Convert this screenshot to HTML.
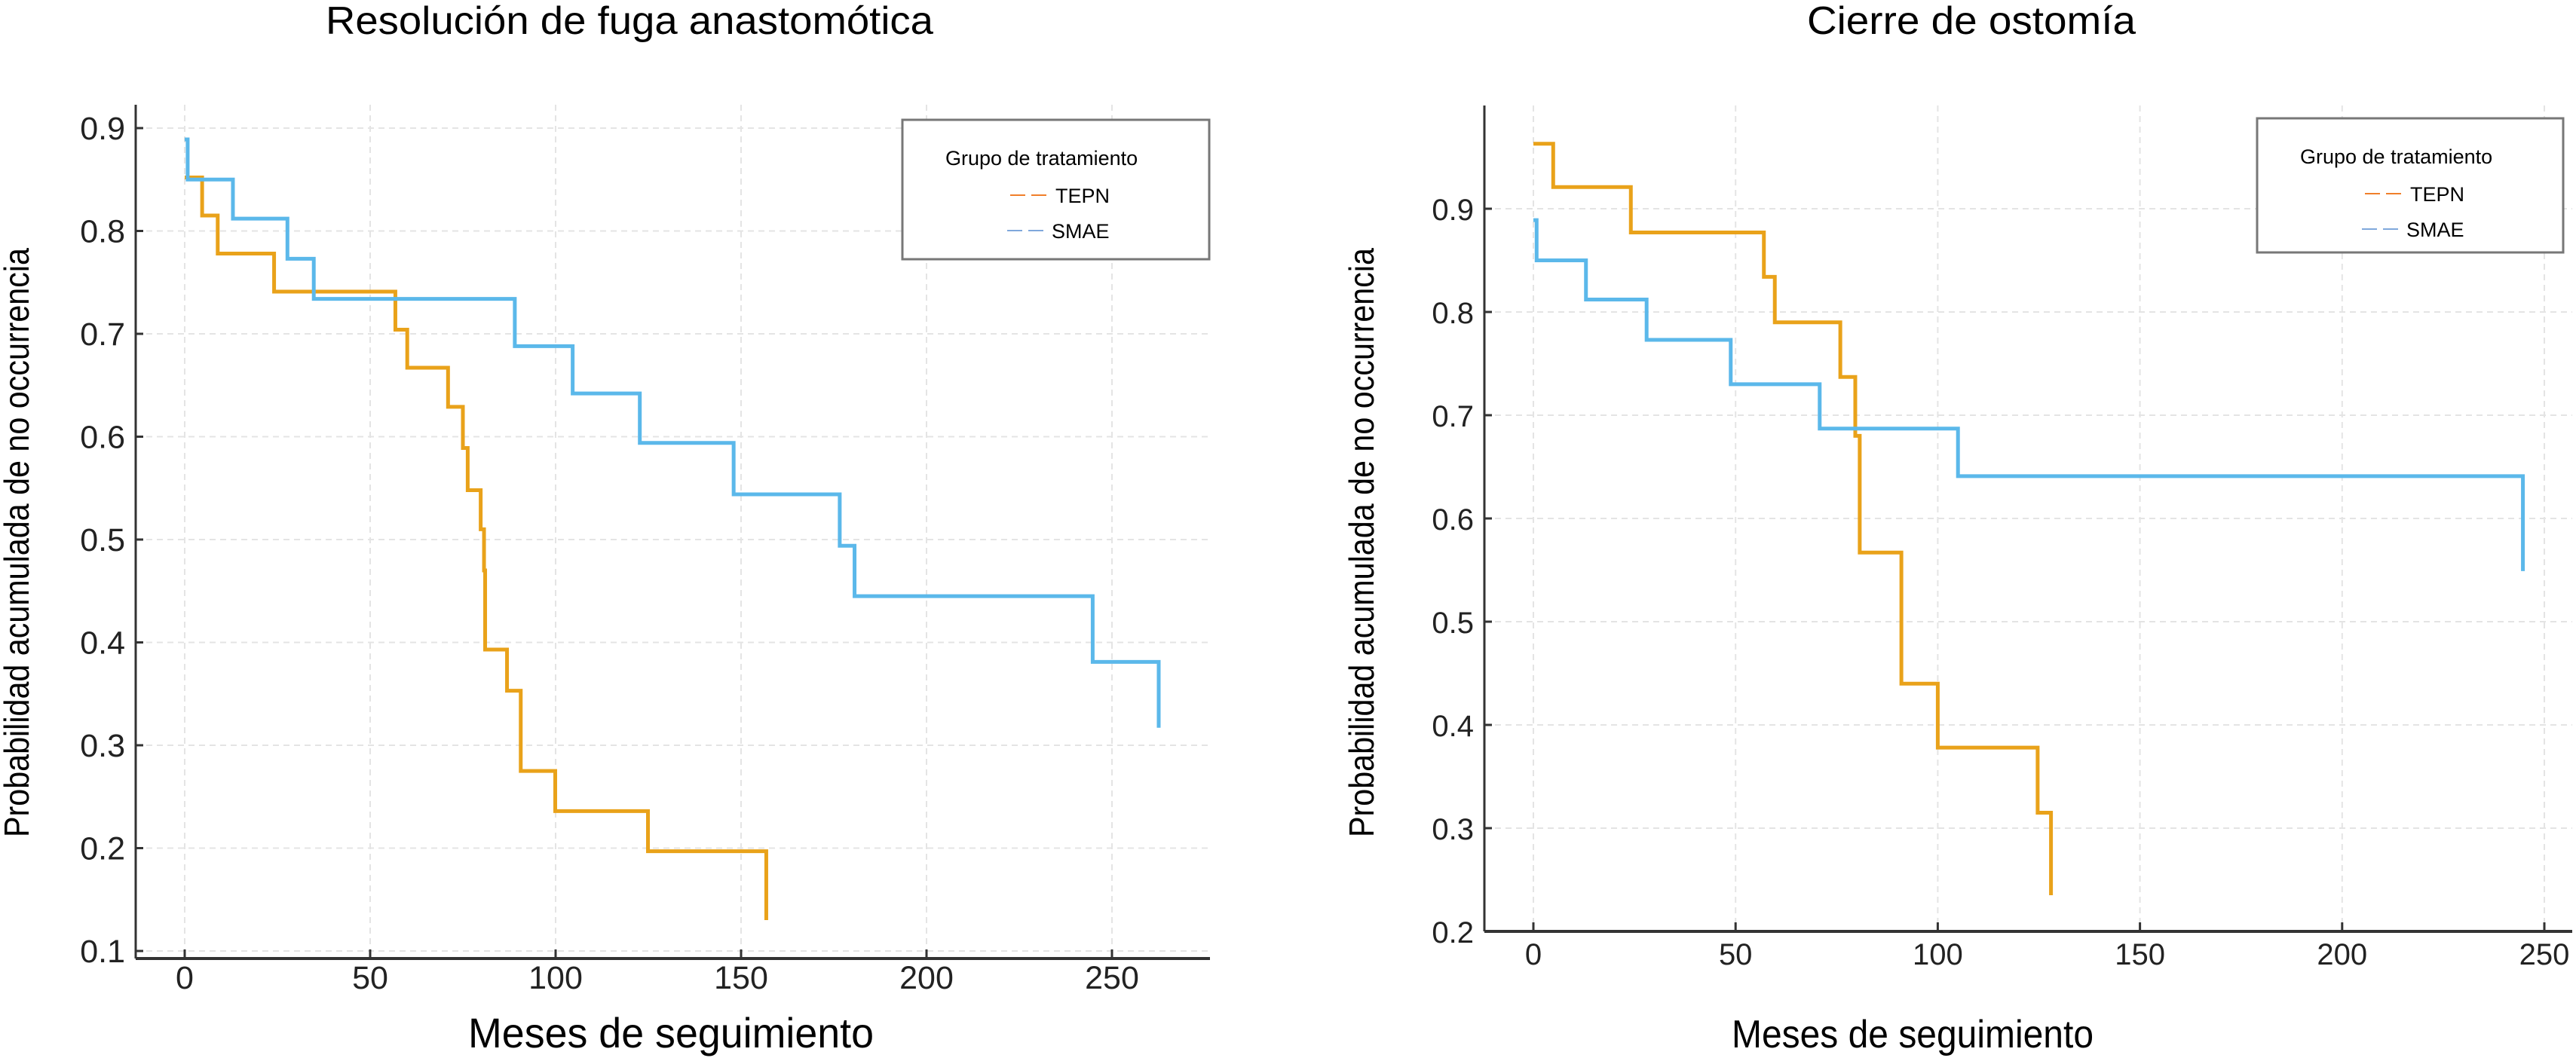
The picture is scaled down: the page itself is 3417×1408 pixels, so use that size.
<!DOCTYPE html>
<html><head><meta charset="utf-8"><style>
html,body{margin:0;padding:0;background:#fff;}
svg{display:block;font-family:"Liberation Sans",sans-serif;}
</style></head><body>
<svg id="fig" width="3417" height="1408" viewBox="0 0 3417 1408" xmlns="http://www.w3.org/2000/svg">
<g id="left"></g>
<g id="right"></g>
</svg>
<script>
// ---- Left chart data: Resolución de fuga anastomótica ----
const leftTepnTimes = [0, 4.7, 8.9, 24.1, 56.8, 60, 71, 75, 76.3, 79.8, 80.7, 81, 86.9, 90.6, 99.9, 124.9, 156.8];
const leftTepnSurv  = [0.852, 0.815, 0.778, 0.741, 0.704, 0.667, 0.629, 0.589, 0.548, 0.510, 0.470, 0.393, 0.353, 0.275, 0.236, 0.197, 0.13];
const leftSmaeTimes = [0, 0.8, 13, 27.7, 34.8, 89, 104.6, 122.7, 148, 176.6, 180.6, 244.8, 262.6];
const leftSmaeSurv  = [0.889, 0.85, 0.812, 0.773, 0.734, 0.688, 0.642, 0.594, 0.544, 0.494, 0.445, 0.381, 0.317];
const leftYTicks = [0.1, 0.2, 0.3, 0.4, 0.5, 0.6, 0.7, 0.8, 0.9];
const leftXTicks = [0, 50, 100, 150, 200, 250];

// ---- Right chart data: Cierre de ostomía ----
const rightTepnTimes = [0, 4.9, 24.1, 57, 59.7, 75.9, 79.6, 80.7, 91, 100, 124.7, 128];
const rightTepnSurv  = [0.963, 0.921, 0.877, 0.834, 0.79, 0.737, 0.68, 0.567, 0.44, 0.378, 0.315, 0.235];
const rightSmaeTimes = [0, 0.8, 13, 28, 48.8, 70.8, 105, 244.7];
const rightSmaeSurv  = [0.889, 0.85, 0.812, 0.773, 0.73, 0.687, 0.641, 0.549];
const rightYTicks = [0.2, 0.3, 0.4, 0.5, 0.6, 0.7, 0.8, 0.9];
const rightXTicks = [0, 50, 100, 150, 200, 250];

const NS = "http://www.w3.org/2000/svg";
function mk(parent, tag, attrs, text){
  const e = document.createElementNS(NS, tag);
  for (const k in attrs) e.setAttribute(k, attrs[k]);
  if (text !== undefined) e.textContent = text;
  parent.appendChild(e);
  return e;
}
function stepPath(times, surv, sx, sy){
  let d = "M" + sx(times[0]) + "," + sy(surv[0]);
  for (let i = 1; i < times.length; i++){
    d += " H" + sx(times[i]) + " V" + sy(surv[i]);
  }
  return d;
}

function drawChart(g, cfg){
  const sx = v => cfg.x0 + (v - 0) * cfg.xScale;
  const sy = v => cfg.yRef - (v - cfg.yRefVal) * cfg.yScale;
  // grid
  cfg.xTicks.forEach(t => {
    const l = mk(g, "line", {x1:sx(t), x2:sx(t), y1:cfg.top, y2:cfg.bottom, stroke:"#e4e4e4", "stroke-width":2, "stroke-dasharray":"8,6"});
    
    
  });
  cfg.yTicks.forEach(t => {
    const l = mk(g, "line", {x1:cfg.left, x2:cfg.right, y1:sy(t), y2:sy(t), stroke:"#e4e4e4", "stroke-width":2, "stroke-dasharray":"8,6"});
    
    
  });
  // axes
  const ya = mk(g, "line", {x1:cfg.left, x2:cfg.left, y1:cfg.top, y2:cfg.bottom, stroke:"#333", "stroke-width":3});
  
  
  const xa = mk(g, "line", {x1:cfg.left, x2:cfg.right, y1:cfg.bottom, y2:cfg.bottom, stroke:"#333", "stroke-width":4});
  
  
  // ticks + labels
  cfg.yTicks.forEach(t => {
    mk(g, "line", {x1:cfg.left, x2:cfg.left+10, y1:sy(t), y2:sy(t), stroke:"#333", "stroke-width":3});
    const tx = mk(g, "text", {x:cfg.left-14, y:sy(t)+15, "font-size":cfg.tickFont, "text-anchor":"end", fill:"#222"}, t.toFixed(1));
    
    
  });
  cfg.xTicks.forEach(t => {
    mk(g, "line", {x1:sx(t), x2:sx(t), y1:cfg.bottom, y2:cfg.bottom-12, stroke:"#333", "stroke-width":3});
    const tx = mk(g, "text", {x:sx(t), y:cfg.xLabelY, "font-size":cfg.tickFont, "text-anchor":"middle", fill:"#222"}, String(t));
    
    
  });
  // series
  const po = mk(g, "path", {d:stepPath(cfg.tepnT, cfg.tepnS, sx, sy), fill:"none", stroke:"#E9A21A", "stroke-width":5});
  
  
  const pb = mk(g, "path", {d:stepPath(cfg.smaeT, cfg.smaeS, sx, sy), fill:"none", stroke:"#5BB8EA", "stroke-width":5});
  
  
  // titles
  const tt = mk(g, "text", {x:cfg.titleX, y:45, "font-size":52, "text-anchor":"middle", textLength:cfg.titleW, lengthAdjust:"spacingAndGlyphs", fill:"#000"}, cfg.title);
  
  
  const xt = mk(g, "text", {x:cfg.xTitleX, y:1408-18, "font-size":cfg.xTitleFont, "text-anchor":"middle", textLength:cfg.xTitleW, lengthAdjust:"spacingAndGlyphs", fill:"#000"}, "Meses de seguimiento");
  
  
  const yt = mk(g, "text", {x:0, y:0, "font-size":46, "text-anchor":"middle", textLength:782, lengthAdjust:"spacingAndGlyphs", fill:"#000", transform:"translate("+cfg.yTitleX+",720) rotate(-90)"}, "Probabilidad acumulada de no occurrencia");
  
  
  // legend
  const lg = mk(g, "g", {});
  
  
  mk(lg, "rect", {x:cfg.lgX, y:cfg.lgY, width:cfg.lgW, height:cfg.lgH, fill:"#fff", stroke:"#777", "stroke-width":3});
  mk(lg, "text", {x:cfg.lgX+57, y:cfg.lgY+60, "font-size":27, fill:"#000"}, "Grupo de tratamiento");
  const e1 = mk(lg, "g", {});
  
  
  mk(e1, "line", {x1:cfg.lgX+143, x2:cfg.lgX+193, y1:cfg.lgY+100, y2:cfg.lgY+100, stroke:"#F07F2A", "stroke-width":2, "stroke-dasharray":"20,8"});
  mk(e1, "text", {x:cfg.lgX+203, y:cfg.lgY+110, "font-size":27, fill:"#000"}, "TEPN");
  const e2 = mk(lg, "g", {});
  
  
  mk(e2, "line", {x1:cfg.lgX+139, x2:cfg.lgX+189, y1:cfg.lgY+147, y2:cfg.lgY+147, stroke:"#7FA8DC", "stroke-width":2, "stroke-dasharray":"20,8"});
  mk(e2, "text", {x:cfg.lgX+198, y:cfg.lgY+157, "font-size":27, fill:"#000"}, "SMAE");
}

drawChart(document.getElementById("left"), {
  left:180, right:1605, top:139, bottom:1272,
  x0:245, xScale:(1475-245)/250,
  yRef:1262, yRefVal:0.1, yScale:1365,
  xTicks:leftXTicks, yTicks:leftYTicks, tickFont:43, xLabelY:1312,
  tepnT:leftTepnTimes, tepnS:leftTepnSurv, smaeT:leftSmaeTimes, smaeS:leftSmaeSurv,
  title:"Resolución de fuga anastomótica", titleX:835, titleW:806,
  xTitleX:890, xTitleW:538, xTitleFont:56, yTitleX:38,
  lgX:1197, lgY:159, lgW:407, lgH:185
});
drawChart(document.getElementById("right"), {
  left:1969, right:3412, top:140, bottom:1236,
  x0:2034, xScale:(3375-2034)/250,
  yRef:1236, yRefVal:0.2, yScale:1370,
  xTicks:rightXTicks, yTicks:rightYTicks, tickFont:40, xLabelY:1280,
  tepnT:rightTepnTimes, tepnS:rightTepnSurv, smaeT:rightSmaeTimes, smaeS:rightSmaeSurv,
  title:"Cierre de ostomía", titleX:2615, titleW:436,
  xTitleX:2537, xTitleW:480, xTitleFont:52, yTitleX:1822,
  lgX:2994, lgY:157, lgW:406, lgH:178
});
</script>
</body></html>
